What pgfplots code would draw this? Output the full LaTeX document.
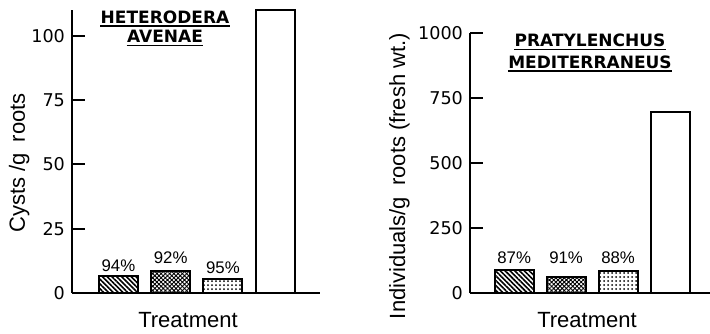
\documentclass[border=0pt]{standalone}
\usepackage{pgfplots}
\pgfplotsset{compat=1.18}
\usetikzlibrary{patterns.meta}
\usepackage{fontspec}
\setmainfont{Liberation Sans}
\newfontfamily\dejavu{DejaVu Sans}
\tikzset{
  pct/.style={font=\fontsize{8.4}{9}\selectfont, anchor=base, inner sep=0pt},
  ttl/.style={font=\dejavu\bfseries\fontsize{8.5}{10}\selectfont, anchor=base, inner sep=0pt},
}
\pgfplotsset{
  myax/.style={
    scale only axis, axis x line=bottom, axis y line=left,
    axis line style={-, line width=1pt},
    tick style={line width=1pt, black},
    major tick length=6.5pt, tick align=inside,
    xtick=\empty, ymin=0, clip=false,
    tick label style={font=\dejavu\fontsize{8.8}{10}\selectfont},
    /pgf/number format/assume math mode=true,
    /pgf/number format/1000 sep={},
  },
  mybar/.style={ybar, bar width=19.5pt, bar shift=0pt, draw=black, line width=1pt},
}
\begin{document}
\begin{tikzpicture}
\path[use as bounding box] (0,0) rectangle (355pt,-166.5pt);
% ---------------- left panel ----------------
\begin{axis}[myax, at={(36pt,-146.5pt)}, anchor=south west,
  width=124pt, height=141.5pt, xmin=0.11, xmax=4.86, ymax=110,
  ytick={0,25,50,75,100}]
\addplot[mybar, pattern={Lines[distance=1.7pt,angle=-45,line width=0.8pt]}] coordinates {(1,6.6)};
\addplot[mybar, pattern={Hatch[distance=1.5pt,angle=45,line width=0.45pt]}] coordinates {(2,8.6)};
\addplot[mybar, pattern={Dots[distance=2pt,radius=0.5pt]}] coordinates {(3,5.5)};
\addplot[mybar, fill=white] coordinates {(4,110)};
\node[pct] at (axis cs:1,8.3) {94\%};
\node[pct] at (axis cs:2,11.5) {92\%};
\node[pct] at (axis cs:3,7.7) {95\%};
\node[ttl] (a1) at (rel axis cs:0.375,0.953) {HETERODERA};
\node[ttl] (a2) at (rel axis cs:0.375,0.884) {AVENAE};
\draw[line width=0.8pt] ([yshift=-1.3pt]a1.base west) -- ([yshift=-1.3pt]a1.base east);
\draw[line width=0.8pt] ([yshift=-1.3pt]a2.base west) -- ([yshift=-1.3pt]a2.base east);
\end{axis}
% ---------------- right panel ----------------
\begin{axis}[myax, at={(235pt,-146.5pt)}, anchor=south west,
  width=120pt, height=130pt, xmin=0.15, xmax=4.77, ymax=1000,
  ytick={0,250,500,750,1000}]
\addplot[mybar, pattern={Lines[distance=1.7pt,angle=-45,line width=0.8pt]}] coordinates {(1,88)};
\addplot[mybar, pattern={Hatch[distance=1.5pt,angle=45,line width=0.45pt]}] coordinates {(2,63)};
\addplot[mybar, pattern={Dots[distance=2pt,radius=0.5pt]}] coordinates {(3,85)};
\addplot[mybar, fill=white] coordinates {(4,695)};
\node[pct] at (axis cs:1,114) {87\%};
\node[pct] at (axis cs:2,114) {91\%};
\node[pct] at (axis cs:3,114) {88\%};
\node[ttl] (b1) at (rel axis cs:0.5,0.947) {PRATYLENCHUS};
\node[ttl] (b2) at (rel axis cs:0.5,0.864) {MEDITERRANEUS};
\draw[line width=0.8pt] ([yshift=-1.3pt]b1.base west) -- ([yshift=-1.3pt]b1.base east);
\draw[line width=0.8pt] ([yshift=-1.3pt]b2.base west) -- ([yshift=-1.3pt]b2.base east);
\end{axis}
% ---------------- labels ----------------
\node[rotate=90, anchor=base, font=\fontsize{11}{13}\selectfont] at (12.5pt,-81.5pt) {Cysts /g\enspace roots};
\node[rotate=90, anchor=base, font=\fontsize{11}{13}\selectfont] at (202.5pt,-88pt) {Individuals/g\enspace roots (fresh wt.)};
\node[anchor=base, font=\fontsize{11}{13}\selectfont] at (94pt,-163.5pt) {Treatment};
\node[anchor=base, font=\fontsize{11}{13}\selectfont] at (293.5pt,-163.5pt) {Treatment};
\end{tikzpicture}
\end{document}
